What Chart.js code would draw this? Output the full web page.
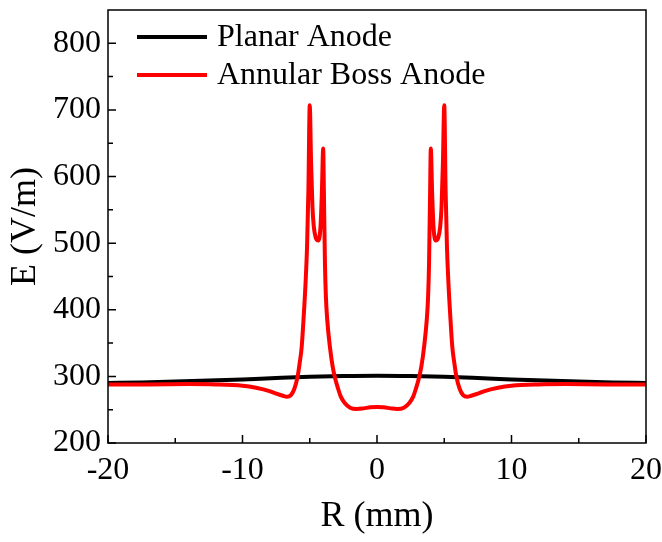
<!DOCTYPE html>
<html>
<head>
<meta charset="utf-8">
<script src="https://cdn.jsdelivr.net/npm/chart.js@4"></script>
<style>
  html, body { margin: 0; padding: 0; background: #fff; }
  #wrap { width: 662px; height: 542px; }
</style>
</head>
<body>
<div id="wrap"><canvas id="chart" width="662" height="542"></canvas></div>
<script>
// R (mm) and E (V/m)
const planarR = [-20, -17.5, -15, -12.5, -10, -7.5, -5, -2.5, 0, 2.5, 5, 7.5, 10, 12.5, 15, 17.5, 20];
const planarE = [290, 291, 292.3, 293.8, 295.5, 297.5, 299.3, 300.5, 301, 300.5, 299.3, 297.5, 295.5, 293.8, 292.3, 291, 290];

const bossR = [
  -20, -17, -14, -12, -10, -9, -8, -7.5, -7, -6.7, -6.4, -6.15, -5.9, -5.75, -5.6, -5.45, -5.3, -5.2, -5.1, -5.0,
  -4.9, -4.8, -4.7, -4.55, -4.36, -4.2, -4.1, -4.0, -3.95, -3.87, -3.8, -3.7, -3.5, -3.3, -3.1, -2.9, -2.7, -2.4, -2.0,
  -1.5, -1.0, -0.5, 0, 0.5, 1.0, 1.5,
  2.0, 2.4, 2.7, 2.9, 3.1, 3.3, 3.5, 3.7, 3.8, 3.87, 3.95, 4.0, 4.1, 4.2, 4.36, 4.55, 4.7, 4.8, 4.9,
  5.0, 5.1, 5.2, 5.3, 5.45, 5.6, 5.75, 5.9, 6.15, 6.4, 6.7, 7, 7.5, 8, 9, 10, 12, 14, 17, 20
];
const bossE = [
  288, 288, 288.5, 288, 286, 283, 278, 274, 271, 269.5, 272, 281, 300, 320, 344, 390, 445, 495, 580, 707,
  620, 555, 525, 508, 504, 525, 575, 642, 580, 470, 420, 385, 344, 315, 296, 282, 270, 260, 253,
  251, 252, 253.5, 254, 253.5, 252, 251,
  253, 260, 270, 282, 296, 315, 344, 385, 420, 470, 580, 642, 575, 525, 504, 508, 525, 555, 620,
  707, 580, 495, 445, 390, 344, 320, 300, 281, 272, 269.5, 271, 274, 278, 283, 286, 288, 288.5, 288, 288
];

const xTicks = [-20, -10, 0, 10, 20];
const xMinor = [-15, -5, 5, 15];
const yTicks = [200, 300, 400, 500, 600, 700, 800];
const yMinor = [250, 350, 450, 550, 650, 750];

const seriesLabels = ["Planar Anode", "Annular Boss Anode"];
const seriesColors = ["#000000", "#ff0000"];

const FONT = "'Liberation Serif', 'Times New Roman', serif";

const toPoints = (xs, ys) => xs.map((x, i) => ({ x: x, y: ys[i] }));

// frame, inward ticks and the legend inside the plot
const framePlugin = {
  id: "frame",
  afterDraw(chart) {
    const ctx = chart.ctx;
    const a = chart.chartArea;
    const xs = chart.scales.x;
    const ys = chart.scales.y;
    ctx.save();
    ctx.strokeStyle = "#000";
    ctx.lineWidth = 1.5;
    ctx.strokeRect(a.left, a.top, a.right - a.left, a.bottom - a.top);

    ctx.beginPath();
    xTicks.forEach((v) => {
      const px = xs.getPixelForValue(v);
      ctx.moveTo(px, a.bottom);
      ctx.lineTo(px, a.bottom - 8);
    });
    xMinor.forEach((v) => {
      const px = xs.getPixelForValue(v);
      ctx.moveTo(px, a.bottom);
      ctx.lineTo(px, a.bottom - 5);
    });
    yTicks.forEach((v) => {
      const py = ys.getPixelForValue(v);
      ctx.moveTo(a.left, py);
      ctx.lineTo(a.left + 8, py);
    });
    yMinor.forEach((v) => {
      const py = ys.getPixelForValue(v);
      ctx.moveTo(a.left, py);
      ctx.lineTo(a.left + 5, py);
    });
    ctx.stroke();

    // legend
    ctx.font = "32px " + FONT;
    ctx.textBaseline = "middle";
    ctx.fillStyle = "#000";
    seriesLabels.forEach((label, i) => {
      const y = a.top + 27 + i * 38;
      ctx.strokeStyle = seriesColors[i];
      ctx.lineWidth = 4;
      ctx.beginPath();
      ctx.moveTo(a.left + 29, y);
      ctx.lineTo(a.left + 99, y);
      ctx.stroke();
      ctx.fillText(label, a.left + 109, y + 1);
    });
    ctx.restore();
  },
};

const ctx = document.getElementById("chart").getContext("2d");

new Chart(ctx, {
  type: "line",
  data: {
    datasets: [
      {
        label: seriesLabels[0],
        data: toPoints(planarR, planarE),
        borderColor: seriesColors[0],
        borderWidth: 4,
        pointRadius: 0,
        cubicInterpolationMode: "monotone",
        order: 1,
      },
      {
        label: seriesLabels[1],
        data: toPoints(bossR, bossE),
        borderColor: seriesColors[1],
        borderWidth: 4,
        pointRadius: 0,
        cubicInterpolationMode: "monotone",
        order: 0,
      },
    ],
  },
  options: {
    responsive: false,
    animation: false,
    layout: { padding: { top: 10, right: 16, left: 0, bottom: 0 } },
    plugins: {
      legend: { display: false },
      tooltip: { enabled: false },
    },
    scales: {
      x: {
        type: "linear",
        min: -20,
        max: 20,
        afterBuildTicks: (scale) => {
          scale.ticks = xTicks.map((v) => ({ value: v }));
        },
        afterFit: (scale) => {
          scale.height = 99;
          scale.paddingLeft = 0;
          scale.paddingRight = 0;
        },
        grid: { display: false, drawTicks: false },
        border: { display: false },
        ticks: {
          color: "#000",
          padding: 8,
          maxRotation: 0,
          font: { family: FONT, size: 32 },
        },
        title: {
          display: true,
          text: "R (mm)",
          color: "#000",
          padding: { top: 8 },
          font: { family: FONT, size: 36 },
        },
      },
      y: {
        type: "linear",
        min: 200,
        max: 850,
        afterBuildTicks: (scale) => {
          scale.ticks = yTicks.map((v) => ({ value: v }));
        },
        afterFit: (scale) => {
          scale.width = 108;
          scale.paddingTop = 0;
          scale.paddingBottom = 0;
        },
        grid: { display: false, drawTicks: false },
        border: { display: false },
        ticks: {
          color: "#000",
          padding: 7,
          font: { family: FONT, size: 32 },
        },
        title: {
          display: true,
          text: "E (V/m)",
          color: "#000",
          padding: { bottom: 0 },
          font: { family: FONT, size: 36 },
        },
      },
    },
  },
  plugins: [framePlugin],
});
</script>
</body>
</html>
